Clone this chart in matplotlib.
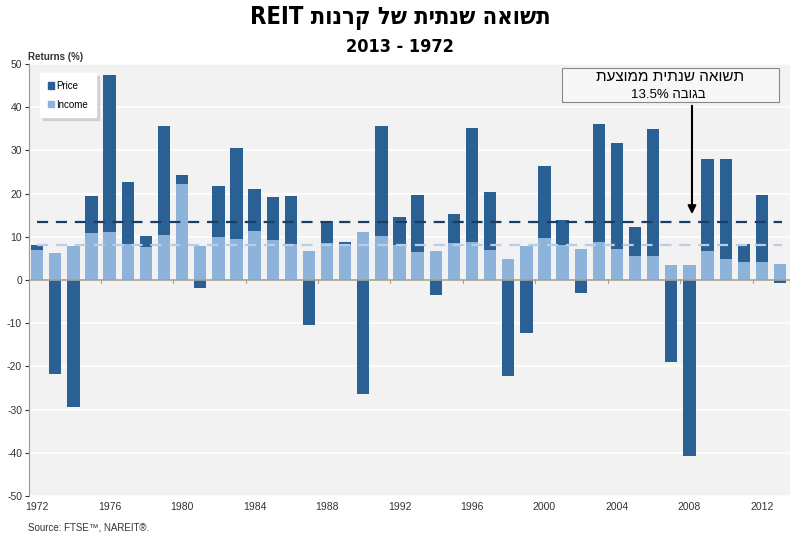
import matplotlib
matplotlib.use('Agg')
import matplotlib.pyplot as plt
from matplotlib.patches import Rectangle, Patch
import numpy as np

plt.rcParams['font.family'] = ['Liberation Sans', 'DejaVu Sans']
plt.rcParams['axes.unicode_minus'] = False

years = list(range(1972, 2014))
income = [6.9, 6.2, 7.9, 10.8, 11.2, 8.3, 7.6, 10.4, 22.3, 7.9,
          9.9, 9.6, 11.3, 9.3, 8.3, 6.7, 8.5, 8.2, 11.1, 10.1,
          8.0, 6.5, 6.7, 8.5, 8.7, 6.9, 4.9, 7.9, 9.8, 8.0,
          7.1, 8.7, 7.2, 5.5, 5.5, 3.5, 3.5, 6.7, 4.8, 4.1,
          4.1, 3.7]
# top of the dark bar for positive years, bottom of it for negative years
price_end = [8.1, -21.8, -29.3, 19.4, 47.5, 22.6, 10.3, 35.7, 24.4, -1.9,
             21.7, 30.6, 21.0, 19.1, 19.4, -10.4, 13.6, 8.8, -26.3, 35.7,
             14.5, 19.6, -3.4, 15.2, 35.3, 20.3, -22.3, -12.2, 26.3, 13.9,
             -3.0, 36.2, 31.6, 12.2, 35.0, -18.9, -40.8, 28.1, 27.9, 8.3,
             19.6, -0.7]
avg_total = 13.5
avg_income = 8.0
tick_years = list(range(1972, 2013, 4))

dark = '#2b6095'
light = '#8db3db'

fig = plt.figure(figsize=(8, 5.41), dpi=100)
ax = fig.add_axes([29/800, (541-496)/541, (790-29)/800, (496-64)/541])
ax.set_facecolor('#f2f2f2')

x = np.array(years)
inc = np.array(income)
pe = np.array(price_end)
w = 0.68
ax.bar(x, inc, width=w, color=light, zorder=2)
pos = pe > 0
ax.bar(x[pos], pe[pos] - inc[pos], bottom=inc[pos], width=w, color=dark, zorder=2)
ax.bar(x[~pos], pe[~pos], width=w, color=dark, zorder=2)

ax.axhline(avg_total, xmin=0.01, xmax=0.99, color='#1c3d63', ls=(0, (5, 3.5)), lw=1.6, zorder=3)
ax.axhline(avg_income, xmin=0.01, xmax=0.99, color='#b9cde6', ls=(0, (5, 3.5)), lw=1.6, zorder=3)
ax.axhline(0, color='#a8a090', lw=1.2, zorder=2.5)

ax.set_xlim(1971.55, 2013.55)
ax.set_ylim(-50, 50)
ax.set_yticks(range(-50, 51, 10))
ax.grid(axis='y', color='white', lw=1.2, zorder=0)
ax.set_axisbelow(True)
ax.set_xticks(tick_years)
ax.set_xticklabels([str(y) for y in tick_years])
ax.tick_params(axis='x', length=0, labelsize=7.5, colors='#333333', pad=4)
ax.tick_params(axis='y', length=3, labelsize=7.5, colors='#333333', pad=2)
for s in ['top', 'right', 'bottom']:
    ax.spines[s].set_visible(False)
ax.spines['left'].set_color('#999999')

# small category ticks on zero line
for t in np.arange(1975.5, 2013, 4):
    ax.plot([t, t], [0, -0.8], color='#a8a090', lw=0.8, zorder=2.5)

handles = [Patch(color=dark, label='Price'), Patch(color=light, label='Income')]
leg = ax.legend(handles=handles, loc='upper left', bbox_to_anchor=(0.008, 0.99),
                fontsize=7, frameon=True, fancybox=False, shadow={'color': '#d0d0d0', 'alpha': 1},
                handlelength=0.6, handleheight=0.6, handletextpad=0.3,
                borderpad=0.8, labelspacing=0.9)
leg.get_frame().set_edgecolor('white')
leg.get_frame().set_facecolor('white')

# titles (Hebrew in visual order)
fig.text(0.5, 0.966, 'REIT ' + 'תשואה שנתית של קרנות'[::-1], ha='center', va='center',
         fontsize=17, fontweight='bold', fontstretch='condensed',
         family=['DejaVu Sans', 'Liberation Sans'])
fig.text(0.5, 0.913, '2013 - 1972', ha='center', va='center',
         fontsize=13, fontweight='bold', fontstretch='condensed',
         family=['DejaVu Sans', 'Liberation Sans'])

fig.text(28/800, (541-57)/541, 'Returns (%)', fontsize=7, fontweight='bold', color='#333333', va='center')
fig.text(28/800, (541-527)/541, 'Source: FTSE\u2122, NAREIT\u00ae.', fontsize=7, color='#333333', va='center')

# annotation box
fig.patches.append(Rectangle((562/800, (541-102)/541), 217/800, 34/541, transform=fig.transFigure,
                             facecolor='#f7f7f7', edgecolor='#888888', lw=0.8, zorder=5))
fig.text(670/800, (541-77)/541, 'תשואה שנתית ממוצעת'[::-1], ha='center', va='center', fontsize=11, zorder=6)
fig.text(668/800, (541-95)/541, '13.5% ' + 'בגובה'[::-1], ha='center', va='center', fontsize=9.5, zorder=6)
ax.annotate('', xy=(2008.14, 14.6), xycoords='data',
            xytext=(692/800, (541-103)/541), textcoords='figure fraction',
            arrowprops=dict(arrowstyle='-|>', color='black', lw=1.5, mutation_scale=12))

fig.savefig('out.png', dpi=100)
